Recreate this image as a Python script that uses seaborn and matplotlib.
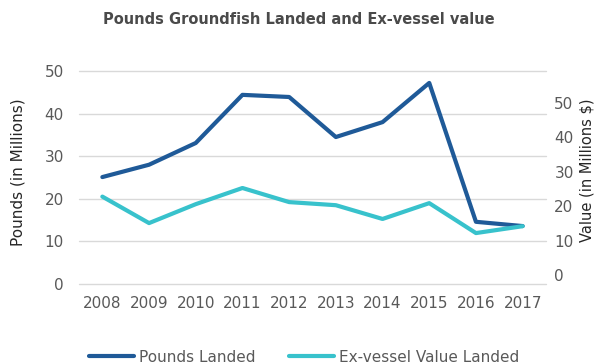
import matplotlib
matplotlib.use("Agg")
import matplotlib.pyplot as plt
import seaborn as sns
import pandas as pd

years = [2008, 2009, 2010, 2011, 2012, 2013, 2014, 2015, 2016, 2017]
pounds_landed = [25.1, 28.0, 33.1, 44.4, 43.9, 34.5, 38.0, 47.2, 14.6, 13.6]
value_landed = [22.8, 15.1, 20.6, 25.3, 21.2, 20.3, 16.3, 20.9, 12.2, 14.2]

left_ticks = [0, 10, 20, 30, 40, 50]
right_ticks = [0, 10, 20, 30, 40, 50]

dark_blue = "#1f5a98"
teal = "#38c2cc"
grid_grey = "#d9d9d9"
text_grey = "#595959"

sns.set_style("white")
plt.rcParams["font.family"] = ["DejaVu Sans"]

df = pd.DataFrame({"Year": years, "Pounds": pounds_landed, "Value": value_landed})

fig = plt.figure(figsize=(5.98, 3.64), dpi=100)
ax = fig.add_axes([79 / 598, 1 - 284 / 364, (546 - 79) / 598, (284 - 71) / 364])
ax2 = ax.twinx()

sns.lineplot(data=df, x="Year", y="Pounds", ax=ax, color=dark_blue, lw=3,
             label="Pounds Landed", legend=False)
sns.lineplot(data=df, x="Year", y="Value", ax=ax2, color=teal, lw=3,
             label="Ex-vessel Value Landed", legend=False)

ax.set_xlim(2007.5, 2017.5)
ax.set_ylim(0, 50)
ax2.set_ylim(-2.6, 59.3)

ax.set_xticks(years)
ax.set_xticklabels([str(y) for y in years])
ax.set_yticks(left_ticks)
ax2.set_yticks(right_ticks)

# horizontal gridlines, drawn unclipped so the ones on the frame edges show fully
for t in left_ticks:
    ax.axhline(t, color=grid_grey, lw=1, clip_on=False, zorder=0)
ax.grid(False)
ax2.grid(False)

for a in (ax, ax2):
    for s in a.spines.values():
        s.set_visible(False)
    a.set_xlabel("")
    a.set_ylabel("")

ax.tick_params(axis="y", length=0, pad=11, labelsize=11, labelcolor=text_grey)
ax.tick_params(axis="x", length=0, pad=9, labelsize=11, labelcolor=text_grey)
ax2.tick_params(axis="y", length=0, pad=6, labelsize=11, labelcolor=text_grey)

fig.text(0.5, 1 - 20 / 364, "Pounds Groundfish Landed and Ex-vessel value",
         ha="center", va="center", fontsize=10.5, fontweight="semibold", color="#4a4a4a")
fig.text(18 / 598, 1 - 172 / 364, "Pounds (in Millions)", rotation=90,
         ha="center", va="center", fontsize=11, color="#262626")
fig.text(587 / 598, 1 - 170 / 364, "Value (in Millions $)", rotation=90,
         ha="center", va="center", fontsize=10.5, color="#262626")

handles = ax.get_lines()[:1] + ax2.get_lines()[:1]
fig.legend(handles, ["Pounds Landed", "Ex-vessel Value Landed"], loc="center",
           bbox_to_anchor=(304 / 598, 1 - 357 / 364), ncol=2, frameon=False,
           fontsize=11, handlelength=2.95, handletextpad=0.33, columnspacing=2.2,
           labelcolor=text_grey)

fig.savefig("out.png", dpi=100)
